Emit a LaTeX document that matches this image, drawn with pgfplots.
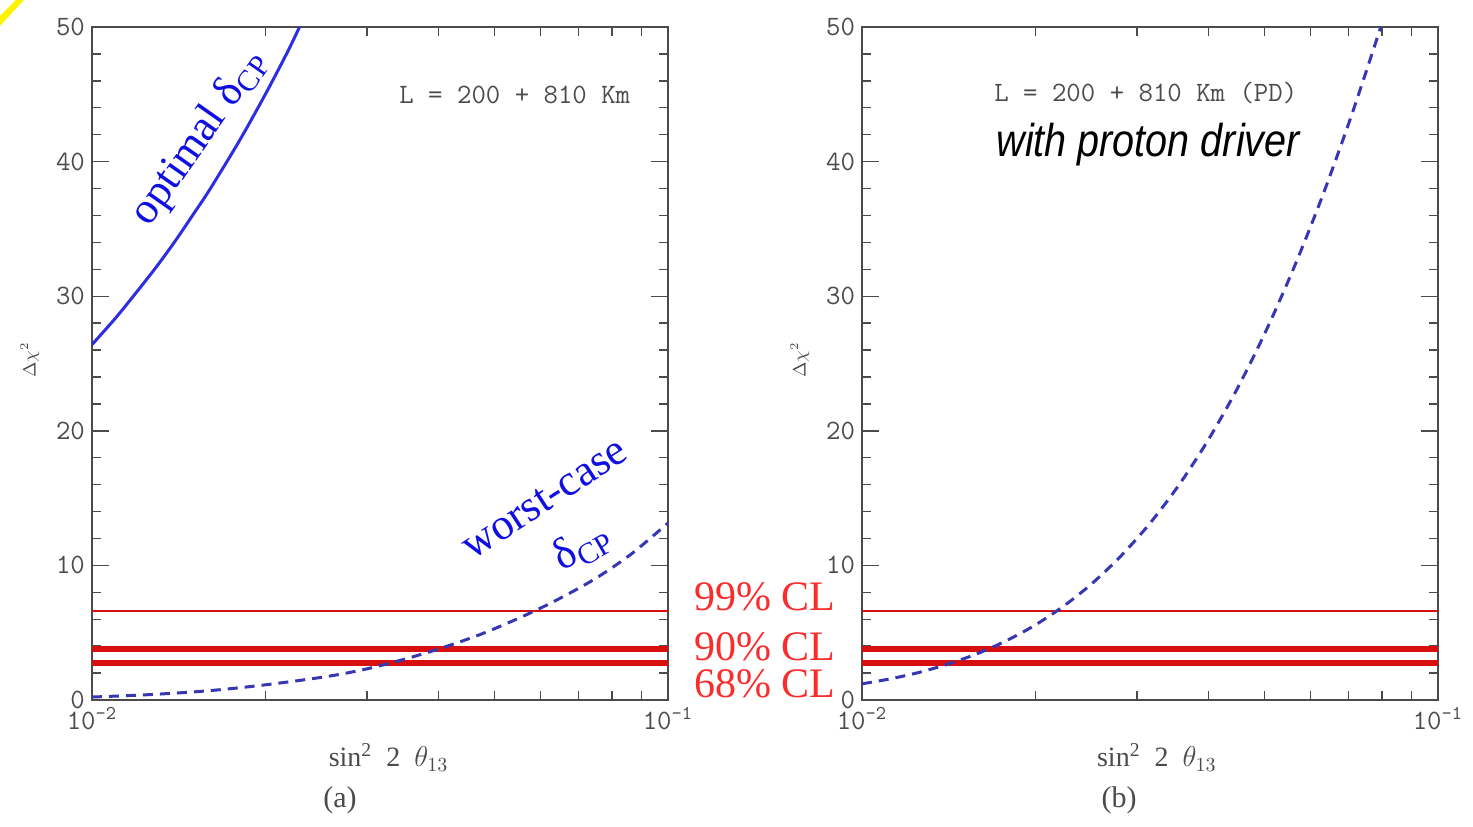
\documentclass[border=0pt]{standalone}
\usepackage{fontspec}
\setmainfont{Liberation Serif}
\newfontfamily\sansfont[FakeStretch=0.86]{Liberation Sans}
\usepackage{pgfplots}
\usepackage{pgfplotstable}
\pgfplotsset{compat=1.18}
\definecolor{axgray}{RGB}{75,75,75}
\definecolor{lblue}{RGB}{45,45,225}
\definecolor{dblue}{RGB}{55,55,180}
\definecolor{tblue}{RGB}{15,15,225}
\definecolor{clred}{RGB}{215,15,15}
\definecolor{txtred}{RGB}{250,45,45}

\pgfplotstableread{
x y
0.0100 26.4
0.0110 28.4
0.0120 30.4
0.0130 32.3
0.0140 34.2
0.0150 36.1
0.0160 37.9
0.0180 41.5
0.0200 45.0
0.0220 48.4
0.0235 51.0
}\optimalA

\pgfplotstableread{
x y
0.01000 0.22
0.01259 0.40
0.01585 0.68
0.01995 1.12
0.02588 1.78
0.03119 2.48
0.03864 3.59
0.04775 4.95
0.05998 6.81
0.07328 8.79
0.08590 10.77
0.10000 13.15
}\worstA

\pgfplotstableread{
x y
0.010000 1.20
0.011220 1.58
0.012589 2.06
0.014125 2.68
0.015849 3.44
0.017783 4.39
0.019953 5.55
0.022387 6.97
0.025119 8.68
0.028184 10.72
0.031623 13.13
0.035481 15.96
0.039811 19.24
0.044668 23.01
0.050119 27.30
0.056234 32.13
0.063096 37.51
0.070795 43.45
0.079433 49.92
0.083176 52.66
}\worstB

\begin{document}
\begin{tikzpicture}
\path[use as bounding box] (0,0) rectangle (736.5pt,413pt);
\fill[yellow] (0pt,405pt) -- (8pt,413pt) -- (12pt,413pt) -- (0pt,400pt) -- cycle;

% left panel
\begin{axis}[at={(46pt,63pt)}, anchor=south west,
  xmode=log, xmin=0.01, xmax=0.1, ymin=0, ymax=50,
  scale only axis, width=288pt, height=336.5pt,
  axis line style={axgray, line width=0.9pt},
  tick style={axgray, line width=0.7pt},
  tick align=inside,
  major tick length=8.5pt, minor tick length=4.5pt,
  xtick={0.01,0.1},
  xticklabels={10\textsuperscript{-2},10\textsuperscript{-1}},
  minor xtick={0.02,0.03,0.04,0.05,0.06,0.07,0.08,0.09},
  ytick={0,10,20,30,40,50},
  minor ytick={2,4,6,8,12,14,16,18,22,24,26,28,32,34,36,38,42,44,46,48},
  ticklabel style={font=\ttfamily\fontsize{14}{14}\selectfont, text=axgray},
  /pgf/number format/assume math mode=true,
  xlabel={sin\textsuperscript{2}\ \ 2\ \ $\theta_{13}$},
  xlabel style={at={(axis description cs:0.515,-0.085)}, anchor=center, font=\fontsize{14}{14}\selectfont, text=axgray},
  ylabel={$\Delta\chi^2$},
  ylabel style={at={(axis description cs:-0.108,0.505)}, anchor=center, font=\fontsize{9}{9}\selectfont, text=axgray},
]
\addplot[clred, line width=1pt] coordinates {(0.01,6.6) (0.1,6.6)};
\addplot[clred, line width=3pt] coordinates {(0.01,3.8) (0.1,3.8)};
\addplot[clred, line width=3pt] coordinates {(0.01,2.75) (0.1,2.75)};
\addplot[lblue, line width=1.5pt, smooth] table[x=x,y=y] {\optimalA};
\addplot[dblue, line width=1.5pt, smooth, dash pattern=on 5pt off 3.5pt] table[x=x,y=y] {\worstA};
\node[text=axgray, font=\ttfamily\fontsize{14}{14}\selectfont] at (axis cs:0.0542,44.95) {L = 200 + 810 Km};
\node[text=tblue, rotate=55, font=\fontsize{22}{22}\selectfont] at (axis cs:0.01535,41.75) {optimal δ\raisebox{-0.35ex}{\fontsize{15}{15}\selectfont CP}};
\node[text=tblue, rotate=33, font=\fontsize{22}{22}\selectfont] at (axis cs:0.0611,14.93) {worst-case};
\node[text=tblue, rotate=30, font=\fontsize{22}{22}\selectfont] at (axis cs:0.0709,11.37) {δ\raisebox{-0.35ex}{\fontsize{15}{15}\selectfont CP}};
\end{axis}

% right panel
\begin{axis}[at={(431pt,63pt)}, anchor=south west,
  xmode=log, xmin=0.01, xmax=0.1, ymin=0, ymax=50,
  scale only axis, width=288pt, height=336.5pt,
  axis line style={axgray, line width=0.9pt},
  tick style={axgray, line width=0.7pt},
  tick align=inside,
  major tick length=8.5pt, minor tick length=4.5pt,
  xtick={0.01,0.1},
  xticklabels={10\textsuperscript{-2},10\textsuperscript{-1}},
  minor xtick={0.02,0.03,0.04,0.05,0.06,0.07,0.08,0.09},
  ytick={0,10,20,30,40,50},
  minor ytick={2,4,6,8,12,14,16,18,22,24,26,28,32,34,36,38,42,44,46,48},
  ticklabel style={font=\ttfamily\fontsize{14}{14}\selectfont, text=axgray},
  /pgf/number format/assume math mode=true,
  xlabel={sin\textsuperscript{2}\ \ 2\ \ $\theta_{13}$},
  xlabel style={at={(axis description cs:0.512,-0.085)}, anchor=center, font=\fontsize{14}{14}\selectfont, text=axgray},
  ylabel={$\Delta\chi^2$},
  ylabel style={at={(axis description cs:-0.108,0.505)}, anchor=center, font=\fontsize{9}{9}\selectfont, text=axgray},
]
\addplot[clred, line width=1pt] coordinates {(0.01,6.6) (0.1,6.6)};
\addplot[clred, line width=3pt] coordinates {(0.01,3.8) (0.1,3.8)};
\addplot[clred, line width=3pt] coordinates {(0.01,2.75) (0.1,2.75)};
\addplot[dblue, line width=1.5pt, smooth, dash pattern=on 5pt off 3.5pt] table[x=x,y=y] {\worstB};
\node[text=axgray, font=\ttfamily\fontsize{14}{14}\selectfont] at (axis cs:0.0311,45.1) {L = 200 + 810 Km (PD)};
\node[text=black, font=\sansfont\itshape\fontsize{23}{23}\selectfont] at (axis cs:0.0314,41.3) {with proton driver};
\end{axis}

\node[text=axgray, font=\fontsize{15}{15}\selectfont] at (170pt,13pt) {(a)};
\node[text=axgray, font=\fontsize{15}{15}\selectfont] at (559.5pt,13pt) {(b)};
\node[text=txtred, font=\fontsize{21}{21}\selectfont] at (382.5pt,114.5pt) {99\% CL};
\node[text=txtred, font=\fontsize{21}{21}\selectfont] at (382.5pt,89.5pt) {90\% CL};
\node[text=txtred, font=\fontsize{21}{21}\selectfont] at (382.5pt,71pt) {68\% CL};
\end{tikzpicture}
\end{document}
